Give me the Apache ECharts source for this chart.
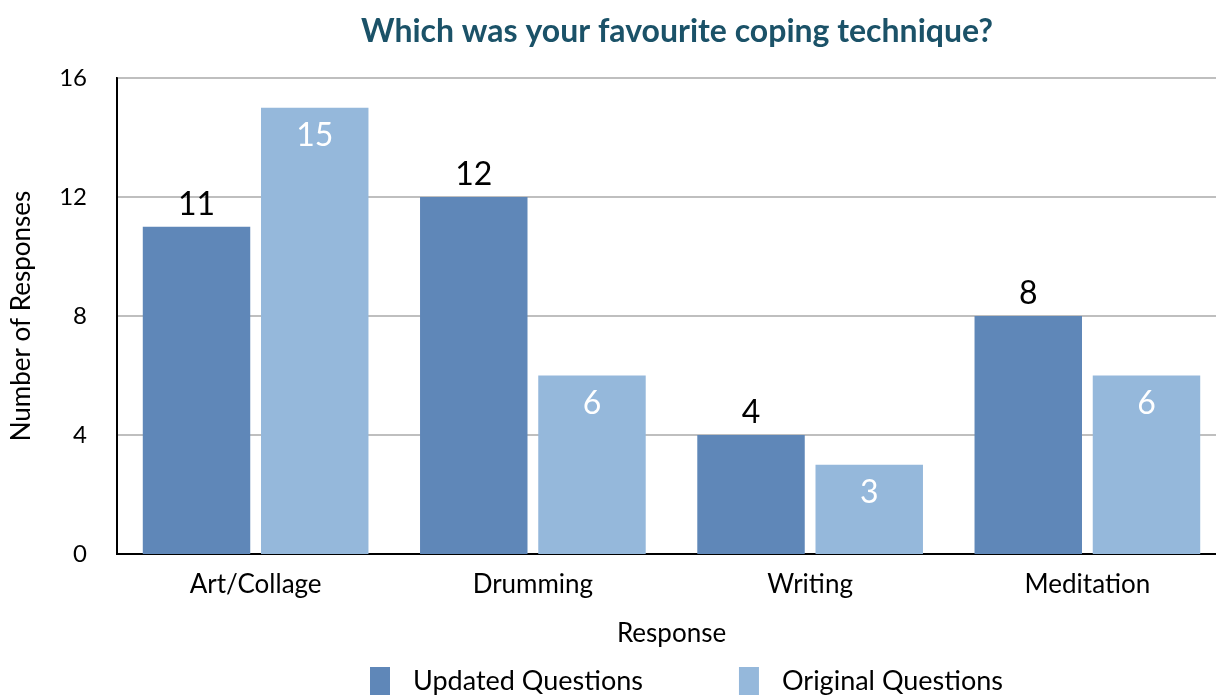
<!DOCTYPE html>
<html><head><meta charset="utf-8">
<script src="https://cdn.jsdelivr.net/npm/echarts@6/dist/echarts.min.js"></script>
<style>html,body{margin:0;padding:0;background:#fff;overflow:hidden;width:1216px;height:695px}#c{width:1228px;height:695px}</style>
</head><body><div id="c"></div>
<script>
const categories = ['Art/Collage', 'Drumming', 'Writing', 'Meditation'];
const updatedQuestions = [11, 12, 4, 8];
const originalQuestions = [15, 6, 3, 6];
const seriesNames = ['Updated Questions', 'Original Questions'];
const yTicks = { min: 0, max: 16, interval: 4 };

const FONT = 'Lato';
const chart = echarts.init(document.getElementById('c'));
chart.setOption({
  animation: false,
  textStyle: { fontFamily: FONT },
  title: {
    text: 'Which was your favourite coping technique?',
    left: 672, top: 11, textAlign: 'center',
    textStyle: { fontFamily: FONT, fontWeight: 'bold', fontSize: 32, color: '#1b5268' }
  },
  grid: { left: 117, top: 78, width: 1109, bottom: 141, show: true, borderColor: '#000', borderWidth: 2, backgroundColor: 'transparent' },
  legend: {
    left: 370, top: 667, padding: 0, itemWidth: 20, itemHeight: 28, itemGap: 96,
    icon: 'rect',
    textStyle: { fontFamily: FONT, fontSize: 27, color: '#000', padding: [0, 0, 0, 18] },
    data: seriesNames
  },
  xAxis: {
    type: 'category', data: categories,
    name: 'Response', nameLocation: 'middle', nameGap: 67,
    nameTextStyle: { fontFamily: FONT, fontSize: 26, color: '#000' },
    axisLine: { lineStyle: { color: '#000', width: 2 } },
    axisTick: { show: false },
    axisLabel: { fontFamily: FONT, fontSize: 26, color: '#000', margin: 18 }
  },
  yAxis: {
    type: 'value', min: yTicks.min, max: yTicks.max, interval: yTicks.interval,
    name: 'Number of Responses', nameLocation: 'middle', nameRotate: 90, nameGap: 82,
    nameTextStyle: { fontFamily: FONT, fontSize: 26, color: '#000' },
    axisLine: { show: true, lineStyle: { color: '#000', width: 2 } },
    axisTick: { show: false },
    axisLabel: { fontFamily: FONT, fontSize: 24, color: '#000', margin: 30 },
    splitLine: { lineStyle: { color: '#bfbfbf', width: 2 } }
  },
  series: [
    {
      name: seriesNames[0], type: 'bar', data: updatedQuestions,
      barGap: '10%', barCategoryGap: '18.6%',
      itemStyle: { color: '#5f87b8' },
      label: { show: true, position: 'top', distance: 6, fontFamily: FONT, fontSize: 32, color: '#000' }
    },
    {
      name: seriesNames[1], type: 'bar', data: originalQuestions,
      barGap: '10%', barCategoryGap: '18.6%',
      itemStyle: { color: '#95b8db' },
      label: { show: true, position: 'insideTop', distance: 12, fontFamily: FONT, fontSize: 32, color: '#fff' }
    }
  ]
});
</script></body></html>
